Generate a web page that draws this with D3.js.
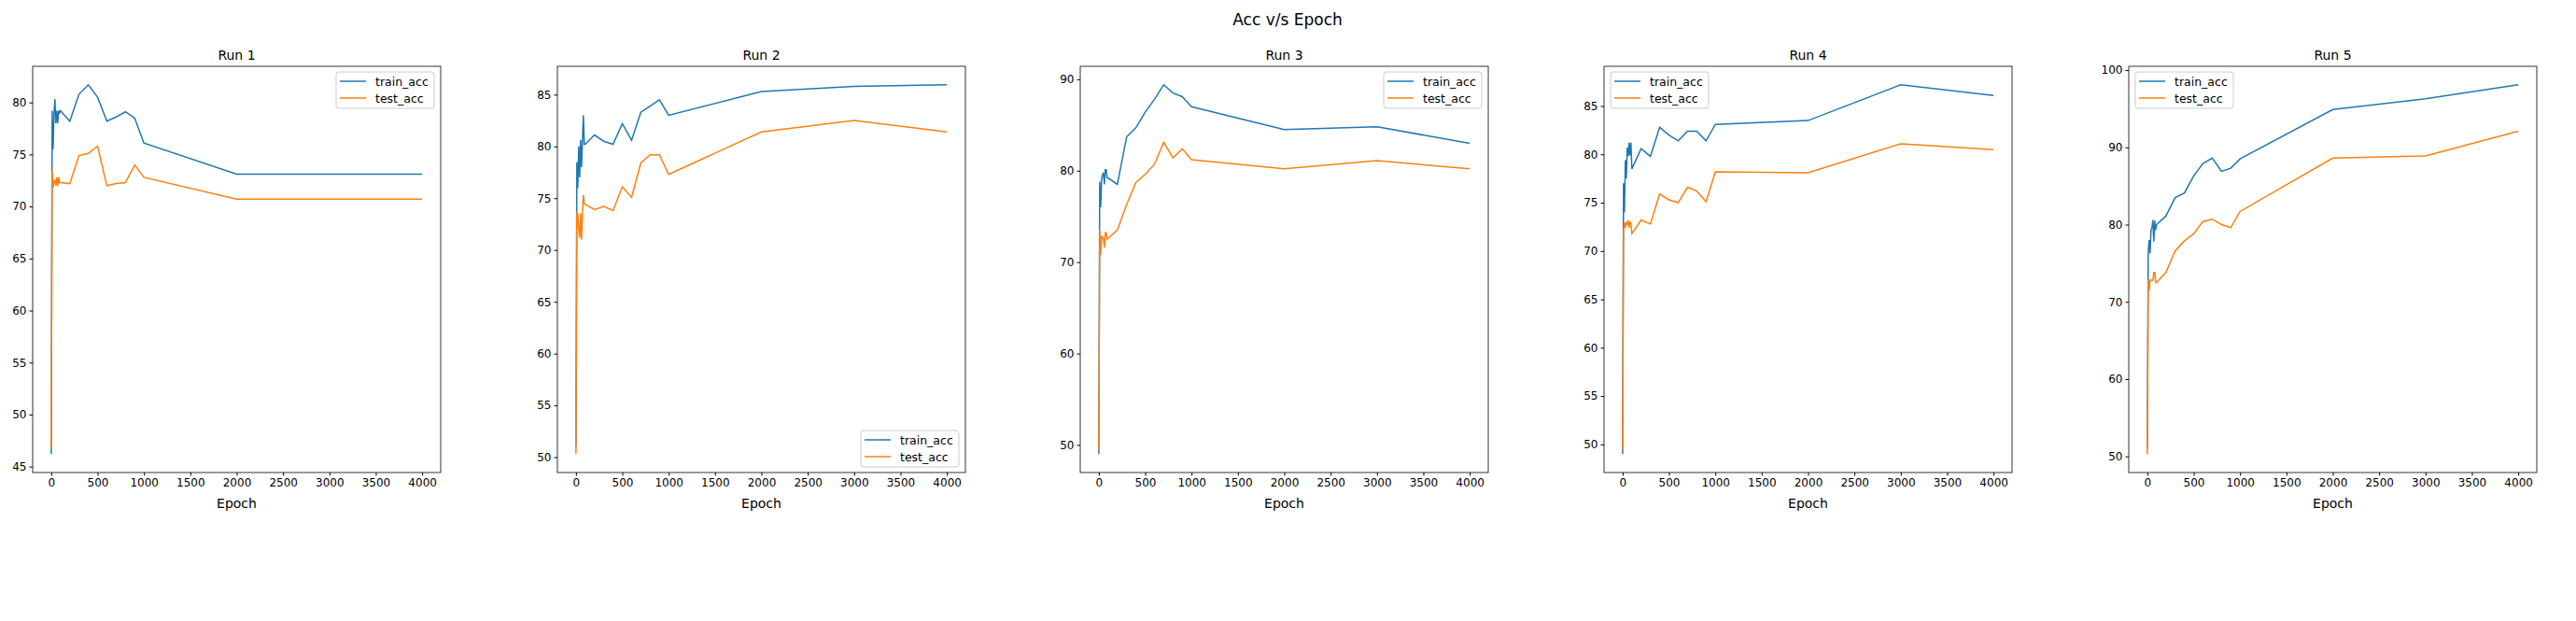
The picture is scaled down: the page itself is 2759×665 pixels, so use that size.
<!DOCTYPE html>
<html lang="en">
<head>
  <meta charset="UTF-8">
  <title>Acc v/s Epoch</title>
  <style>
    body { margin: 0; background: #fff; }
    svg text { font-family: "DejaVu Sans", sans-serif; fill: #000; }
    .axis path, .axis line { stroke: #000; }
    .axis text { font-size: 12px; }
  </style>
  <script src="https://d3js.org/d3.v7.min.js"></script>
</head>
<body>
  <svg id="chart" width="2759" height="665"></svg>
  <script>
    const epochs = [0, 10, 20, 30, 40, 50, 60, 70, 80, 90, 100, 200, 300, 400, 500, 600, 700, 800, 900, 1000, 2000, 3000, 4000];
    const runTitles = ["Run 1", "Run 2", "Run 3", "Run 4", "Run 5"];
    const seriesNames = ["train_acc", "test_acc"];
    const legendSpots = ["upper right", "lower right", "upper right", "upper left", "upper left"];

    const trainAcc = [
      [46.2, 79.2, 75.5, 78.9, 80.3, 78.0, 79.2, 78.0, 79.2, 79.0, 79.2, 78.2, 80.8, 81.7, 80.5, 78.2, 78.6, 79.1, 78.5, 76.1, 73.1, 73.1, 73.1],
      [51.0, 78.5, 76.0, 80.0, 77.0, 80.6, 78.0, 80.5, 83.0, 80.2, 80.2, 81.1, 80.5, 80.2, 82.2, 80.6, 83.3, 83.9, 84.5, 83.0, 85.3, 85.8, 85.95],
      [49.0, 78.8, 76.0, 79.0, 79.5, 79.8, 78.5, 80.1, 80.1, 79.2, 79.2, 78.5, 83.7, 84.7, 86.4, 87.8, 89.4, 88.5, 88.1, 87.0, 84.5, 84.8, 83.0],
      [49.0, 77.0, 74.0, 79.4, 77.5, 80.7, 79.8, 81.2, 79.9, 81.2, 78.5, 80.6, 79.8, 82.8, 82.0, 81.4, 82.4, 82.4, 81.4, 83.1, 83.5, 87.2, 86.1],
      [51.0, 76.5, 78.0, 76.3, 79.3, 79.6, 80.6, 77.8, 80.5, 79.3, 80.0, 81.1, 83.5, 84.1, 86.3, 87.9, 88.6, 86.9, 87.3, 88.5, 94.9, 96.3, 98.1]
    ];
    const testAcc = [
      [46.8, 73.5, 71.8, 72.5, 72.5, 72.0, 72.8, 72.0, 72.8, 72.3, 72.3, 72.2, 74.9, 75.1, 75.8, 72.0, 72.2, 72.3, 74.0, 72.8, 70.7, 70.7, 70.7],
      [50.3, 73.6, 73.5, 72.0, 71.2, 73.5, 71.0, 73.5, 75.3, 74.5, 74.4, 73.9, 74.2, 73.8, 76.1, 75.1, 78.4, 79.2, 79.2, 77.3, 81.4, 82.5, 81.4],
      [49.5, 73.5, 70.8, 72.8, 72.8, 72.5, 71.6, 73.2, 73.2, 72.5, 72.6, 73.5, 76.3, 78.7, 79.6, 80.7, 83.1, 81.4, 82.4, 81.2, 80.2, 81.1, 80.2],
      [49.5, 72.0, 73.0, 72.4, 73.0, 72.7, 73.2, 72.4, 73.0, 72.9, 71.8, 73.2, 72.8, 75.9, 75.3, 75.0, 76.6, 76.2, 75.1, 78.2, 78.1, 81.1, 80.5],
      [50.3, 72.8, 71.5, 72.8, 72.8, 72.8, 72.8, 73.8, 73.8, 72.5, 72.5, 73.8, 76.6, 77.9, 78.8, 80.4, 80.7, 80.0, 79.6, 81.7, 88.6, 88.9, 92.1]
    ];
    const colors = ["#1f77b4", "#ff7f0e"];

    const svg = d3.select("svg#chart");
    const panelLefts = [35, 597, 1157, 1718, 2280];
    const panelWidth = 437;
    const plotTop = 71, plotBottom = 506;

    svg.append("text")
      .attr("x", 1379).attr("y", 27)
      .attr("text-anchor", "middle")
      .style("font-size", "17px")
      .text("Acc v/s Epoch");

    runTitles.forEach((title, i) => {
      const left = panelLefts[i];
      const series = [trainAcc[i], testAcc[i]];
      const all = series.flat();
      const [lo, hi] = d3.extent(all);
      const pad = (hi - lo) * 0.05;

      const xScale = d3.scaleLinear().domain([-200, 4200]).range([left, left + panelWidth]);
      const yScale = d3.scaleLinear().domain([lo - pad, hi + pad]).range([plotBottom, plotTop]);
      const step = (hi - lo) > 40 ? 10 : 5;
      const yTicks = d3.range(Math.ceil((lo - pad) / step) * step, hi + pad, step);

      const line = d3.line().x((d, j) => xScale(epochs[j])).y(d => yScale(d));
      series.forEach((vals, s) => {
        svg.append("path")
          .datum(vals)
          .attr("fill", "none")
          .attr("stroke", colors[s])
          .attr("stroke-width", 1.5)
          .attr("d", line);
      });

      svg.append("g")
        .attr("class", "x axis")
        .attr("transform", `translate(0,${plotBottom})`)
        .call(d3.axisBottom(xScale).tickValues(d3.range(0, 4001, 500)).tickSize(3.5).tickPadding(3).tickFormat(d3.format("d")))
        .call(g => g.select(".domain").remove());

      svg.append("g")
        .attr("class", "y axis")
        .attr("transform", `translate(${left},0)`)
        .call(d3.axisLeft(yScale).tickValues(yTicks).tickSize(3.5).tickPadding(3).tickFormat(d3.format("d")))
        .call(g => g.select(".domain").remove());

      svg.append("rect")
        .attr("x", left).attr("y", plotTop)
        .attr("width", panelWidth).attr("height", plotBottom - plotTop)
        .attr("fill", "none").attr("stroke", "#000").attr("stroke-width", 0.8);

      svg.append("text")
        .attr("x", left + panelWidth / 2).attr("y", plotTop - 7)
        .attr("text-anchor", "middle")
        .style("font-size", "14px")
        .text(title);

      svg.append("text")
        .attr("x", left + panelWidth / 2).attr("y", plotBottom + 38)
        .attr("text-anchor", "middle")
        .style("font-size", "14px")
        .text("Epoch");

      // legend
      const lw = 105, lh = 39;
      const spot = legendSpots[i];
      const lx = spot.endsWith("right") ? left + panelWidth - lw - 7 : left + 7;
      const ly = spot.startsWith("upper") ? plotTop + 6 : plotBottom - lh - 6;
      const legend = svg.append("g").attr("transform", `translate(${lx},${ly})`);
      legend.append("rect")
        .attr("width", lw).attr("height", lh).attr("rx", 3)
        .attr("fill", "#fff").attr("fill-opacity", 0.8)
        .attr("stroke", "#ccc");
      seriesNames.forEach((name, s) => {
        const yy = 10 + s * 18;
        legend.append("line")
          .attr("x1", 4).attr("x2", 32).attr("y1", yy).attr("y2", yy)
          .attr("stroke", colors[s]).attr("stroke-width", 1.5);
        legend.append("text")
          .attr("x", 42).attr("y", yy + 4.5)
          .style("font-size", "12.5px")
          .text(name);
      });
    });
  </script>
</body>
</html>
